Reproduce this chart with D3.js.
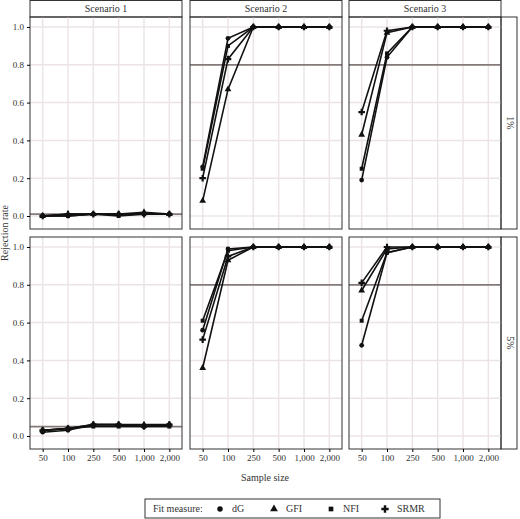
<!DOCTYPE html>
<html><head><meta charset="utf-8">
<script src="https://cdn.jsdelivr.net/npm/d3@7"></script>
<style>body{margin:0;background:#fff}svg text{font-family:"Liberation Serif","DejaVu Serif",serif !important;fill:#333}</style>
</head><body><svg id="c" width="520" height="519" font-family="Liberation Serif"></svg>
<script>
var sizes = ["50", "100", "250", "500", "1,000", "2,000"];
var measures = ["dG", "GFI", "NFI", "SRMR"];
var scenarios = ["Scenario 1", "Scenario 2", "Scenario 3"];
var levels = ["1%", "5%"];
var refLines = [[0.01, 0.8, 0.8], [0.05, 0.8, 0.8]];
// values[level][scenario][measure] over sizes
var s1_1 = { dG: [0.00, 0.00, 0.01, 0.01, 0.01, 0.01], GFI: [0.00, 0.01, 0.01, 0.01, 0.02, 0.01], NFI: [0.00, 0.00, 0.01, 0.00, 0.01, 0.01], SRMR: [0.00, 0.01, 0.01, 0.01, 0.01, 0.01] };
var s2_1 = { dG: [0.26, 0.94, 1, 1, 1, 1], GFI: [0.08, 0.67, 1, 1, 1, 1], NFI: [0.25, 0.90, 1, 1, 1, 1], SRMR: [0.20, 0.83, 1, 1, 1, 1] };
var s3_1 = { dG: [0.19, 0.84, 1, 1, 1, 1], GFI: [0.43, 0.97, 1, 1, 1, 1], NFI: [0.25, 0.86, 1, 1, 1, 1], SRMR: [0.55, 0.98, 1, 1, 1, 1] };
var s1_5 = { dG: [0.02, 0.03, 0.06, 0.06, 0.05, 0.06], GFI: [0.03, 0.04, 0.06, 0.06, 0.06, 0.06], NFI: [0.03, 0.04, 0.05, 0.05, 0.05, 0.05], SRMR: [0.03, 0.04, 0.06, 0.06, 0.05, 0.06] };
var s2_5 = { dG: [0.56, 0.99, 1, 1, 1, 1], GFI: [0.36, 0.93, 1, 1, 1, 1], NFI: [0.61, 0.98, 1, 1, 1, 1], SRMR: [0.51, 0.95, 1, 1, 1, 1] };
var s3_5 = { dG: [0.48, 0.97, 1, 1, 1, 1], GFI: [0.77, 0.99, 1, 1, 1, 1], NFI: [0.61, 0.97, 1, 1, 1, 1], SRMR: [0.81, 1.00, 1, 1, 1, 1] };
var values = [[s1_1, s2_1, s3_1], [s1_5, s2_5, s3_5]];
var yTicks = [0, 0.2, 0.4, 0.6, 0.8, 1.0];

var svg = d3.select("#c");
var panelX = [30, 190, 349], panelW = 152;
var panelY = [17, 237], panelH = 212;
var symbols = { dG: d3.symbolCircle, GFI: d3.symbolTriangle, NFI: d3.symbolSquare, SRMR: d3.symbolCross };
var symSize = { dG: 18, GFI: 20, NFI: 16, SRMR: 24 };

var x = d3.scalePoint().domain(sizes).range([0, panelW]).padding(0.5);
var y = d3.scaleLinear().domain([0, 1]).range([panelH - 13, 10]);

// strips on top
scenarios.forEach(function(s, j) {
	var g = svg.append("g").attr("transform", "translate(" + panelX[j] + ",0)");
	g.append("rect").attr("y", 0.5).attr("width", panelW).attr("height", 16.5).attr("fill", "#fff").attr("stroke", "#333");
	g.append("text").attr("x", panelW / 2).attr("y", 12).attr("text-anchor", "middle").attr("font-size", 10).text(s);
});

levels.forEach(function(lv, i) {
	// right strip
	var sg = svg.append("g").attr("transform", "translate(" + (panelX[2] + panelW) + "," + panelY[i] + ")");
	sg.append("rect").attr("width", 16).attr("height", panelH).attr("fill", "#fff").attr("stroke", "#333");
	sg.append("text").attr("transform", "translate(6," + panelH / 2 + ") rotate(90)")
		.attr("text-anchor", "middle").attr("font-size", 10).text(lv);

	scenarios.forEach(function(s, j) {
		var g = svg.append("g").attr("transform", "translate(" + panelX[j] + "," + panelY[i] + ")");
		g.selectAll("line.gy").data(yTicks).enter().append("line")
			.attr("x1", 0).attr("x2", panelW).attr("y1", y).attr("y2", y)
			.attr("stroke", "#ece4e4").attr("stroke-width", 1.5);
		g.selectAll("line.gx").data(sizes).enter().append("line")
			.attr("y1", 0).attr("y2", panelH).attr("x1", x).attr("x2", x)
			.attr("stroke", "#ece4e4").attr("stroke-width", 1.5);
		g.append("line").attr("x1", 0).attr("x2", panelW)
			.attr("y1", y(refLines[i][j])).attr("y2", y(refLines[i][j]))
			.attr("stroke", "#857a7a").attr("stroke-width", 1.8);

		var line = d3.line().x(function(d, k) { return x(sizes[k]); }).y(function(d) { return y(d); });
		measures.forEach(function(m) {
			var vals = values[i][j][m];
			g.append("path").datum(vals).attr("d", line).attr("fill", "none")
				.attr("stroke", "#111").attr("stroke-width", 1.6);
			g.selectAll("path.p" + m).data(vals).enter().append("path")
				.attr("d", d3.symbol().type(symbols[m]).size(symSize[m]))
				.attr("transform", function(d, k) { return "translate(" + x(sizes[k]) + "," + y(d) + ")"; })
				.attr("fill", "#111");
		});
		g.append("rect").attr("width", panelW).attr("height", panelH).attr("fill", "none").attr("stroke", "#333");

		if (j == 0) {
			var ya = g.append("g").attr("font-family", null).call(d3.axisLeft(y).tickValues(yTicks).tickFormat(d3.format(".1f")).tickSize(3));
			ya.attr("font-family", "Liberation Serif");
			ya.select(".domain").remove();
			ya.selectAll("text").attr("font-size", 9);
		}
		if (i == 1) {
			var xa = g.append("g").attr("transform", "translate(0," + panelH + ")").call(d3.axisBottom(x).tickSize(3));
			xa.attr("font-family", "Liberation Serif");
			xa.select(".domain").remove();
			xa.selectAll("text").attr("font-size", 9);
		}
	});
});

svg.append("text").attr("x", 265).attr("y", 481).attr("text-anchor", "middle").attr("font-size", 10).text("Sample size");
svg.append("text").attr("transform", "translate(8,233) rotate(-90)").attr("text-anchor", "middle").attr("font-size", 10).text("Rejection rate");

// legend
var lg = svg.append("g").attr("transform", "translate(145,499)");
lg.append("rect").attr("width", 295).attr("height", 19).attr("fill", "#fff").attr("stroke", "#333");
lg.append("text").attr("x", 8).attr("y", 13).attr("font-size", 10).text("Fit measure:");
var lx = [75, 129, 186, 240];
measures.forEach(function(m, k) {
	lg.append("path").attr("d", d3.symbol().type(symbols[m]).size(symSize[m] + 6))
		.attr("transform", "translate(" + lx[k] + ",10)").attr("fill", "#111");
	lg.append("text").attr("x", lx[k] + 12).attr("y", 13).attr("font-size", 10).text(m);
});
</script></body></html>
